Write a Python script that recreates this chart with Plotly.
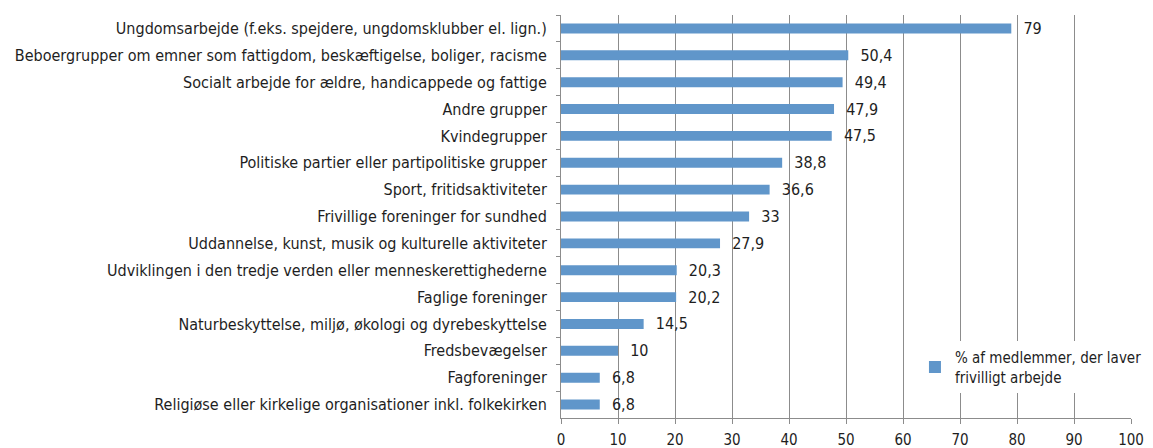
import plotly.graph_objects as go

categories = [
    "Ungdomsarbejde (f.eks. spejdere, ungdomsklubber el. lign.)",
    "Beboergrupper om emner som fattigdom, beskæftigelse, boliger, racisme",
    "Socialt arbejde for ældre, handicappede og fattige",
    "Andre grupper",
    "Kvindegrupper",
    "Politiske partier eller partipolitiske grupper",
    "Sport, fritidsaktiviteter",
    "Frivillige foreninger for sundhed",
    "Uddannelse, kunst, musik og kulturelle aktiviteter",
    "Udviklingen i den tredje verden eller menneskerettighederne",
    "Faglige foreninger",
    "Naturbeskyttelse, miljø, økologi og dyrebeskyttelse",
    "Fredsbevægelser",
    "Fagforeninger",
    "Religiøse eller kirkelige organisationer inkl. folkekirken",
]
values = [79, 50.4, 49.4, 47.9, 47.5, 38.8, 36.6, 33, 27.9, 20.3, 20.2, 14.5, 10, 6.8, 6.8]
series_name = "% af medlemmer, der laver<br>frivilligt arbejde"
x_ticks = [0, 10, 20, 30, 40, 50, 60, 70, 80, 90, 100]

FONT = "DejaVu Sans Condensed, sans-serif"
BLUE = "#6096CA"
GRID = "#8C8C8C"
TXT = "#1E1E1E"

fig = go.Figure(
    go.Bar(
        x=values,
        y=categories,
        orientation="h",
        name=series_name,
        marker=dict(color=BLUE, line=dict(width=0)),
        texttemplate="\u00a0\u00a0%{x}",
        textposition="outside",
        constraintext="none",
        textfont=dict(family=FONT, size=16, color=TXT),
        cliponaxis=False,
        showlegend=True,
    )
)

fig.update_layout(
    width=1145,
    height=440,
    margin=dict(l=553, r=22, t=7, b=30, autoexpand=False),
    paper_bgcolor="white",
    plot_bgcolor="white",
    separators=",.",
    bargap=0.63,
    font=dict(family=FONT, size=16, color=TXT),
    legend=dict(
        xref="container",
        yref="container",
        x=0.7921,
        y=0.2432,
        xanchor="left",
        yanchor="top",
        bgcolor="white",
        font=dict(family=FONT, size=15, color=TXT),
        itemwidth=30,
        tracegroupgap=0,
    ),
    xaxis=dict(
        range=[0, 100],
        tickvals=x_ticks,
        showgrid=True,
        gridcolor=GRID,
        gridwidth=1,
        showline=True,
        linecolor=GRID,
        ticks="outside",
        ticklen=5,
        tickcolor=GRID,
        tickfont=dict(family=FONT, size=15, color=TXT),
        ticklabelstandoff=3,
        zeroline=False,
        automargin=False,
        fixedrange=True,
    ),
    yaxis=dict(
        autorange="reversed",
        showline=True,
        linecolor=GRID,
        ticks="outside",
        tickson="boundaries",
        ticklen=4,
        tickcolor=GRID,
        tickfont=dict(family=FONT, size=16, color=TXT),
        ticklabelstandoff=10,
        showgrid=False,
        automargin=False,
    ),
)

fig.write_html("out.html")
